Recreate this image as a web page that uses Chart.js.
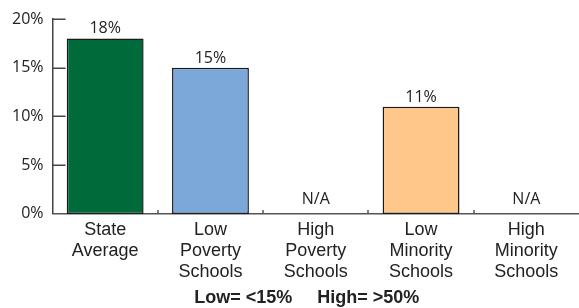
<!DOCTYPE html>
<html>
<head>
<meta charset="utf-8">
<script src="https://cdn.jsdelivr.net/npm/chart.js@4"></script>
<style>
html,body{margin:0;padding:0;background:#fff;}
#wrap{width:579px;height:308px;position:relative;}
</style>
</head>
<body>
<div id="wrap"><canvas id="c" width="579" height="308"></canvas></div>
<script>
const categories = [["State","Average"],["Low","Poverty","Schools"],["High","Poverty","Schools"],["Low","Minority","Schools"],["High","Minority","Schools"]];
const values = [18, 15, null, 11, null];
const valueLabels = ["18%","15%","N/A","11%","N/A"];
const barColors = ["#006B3A","#7BA7D9","#cccccc","#FFC88A","#cccccc"];
const yTicks = [0,5,10,15,20];
const footnote = "Low= <15%     High= >50%";

const extras = {
  id: 'extras',
  beforeDatasetsDraw(chart) {
    const ctx = chart.ctx;
    const y = chart.scales.y;
    const left = chart.chartArea.left;
    ctx.save();
    ctx.strokeStyle = '#444';
    ctx.lineWidth = 1.5;
    yTicks.forEach(v => {
      if (v === 0) return;
      const py = Math.round(y.getPixelForValue(v)) + 0.25;
      ctx.beginPath();
      ctx.moveTo(left, py);
      ctx.lineTo(left + 13, py);
      ctx.stroke();
    });
    ctx.restore();
  },
  afterDatasetsDraw(chart) {
    const ctx = chart.ctx;
    const meta = chart.getDatasetMeta(0);
    const x = chart.scales.x, y = chart.scales.y;
    ctx.save();
    ctx.font = '16px "Open Sans", sans-serif';
    ctx.fillStyle = '#222';
    ctx.textAlign = 'center';
    ctx.textBaseline = 'alphabetic';
    meta.data.forEach((bar, i) => {
      const v = values[i];
      if (v === null) {
        ctx.fillText(valueLabels[i], x.getPixelForValue(i), y.getPixelForValue(0) - 10);
      } else {
        ctx.fillText(valueLabels[i], bar.x, bar.y - 5);
      }
    });
    ctx.strokeStyle = '#555';
    ctx.lineWidth = 1.5;
    const y0 = y.getPixelForValue(0);
    for (let i = 0; i < categories.length - 1; i++) {
      const bx = Math.round((x.getPixelForValue(i) + x.getPixelForValue(i + 1)) / 2);
      ctx.beginPath();
      ctx.moveTo(bx, y0);
      ctx.lineTo(bx, y0 - 4);
      ctx.stroke();
    }
    ctx.font = 'bold 18px "Liberation Sans", Arial, sans-serif';
    ctx.fillStyle = '#222';
    ctx.textAlign = 'center';
    const ca = chart.chartArea;
    ctx.fillText(footnote, (ca.left + ca.right) / 2 - 9, chart.height - 5);
    ctx.restore();
  }
};

new Chart(document.getElementById('c'), {
  type: 'bar',
  data: {
    labels: categories,
    datasets: [{
      data: values,
      backgroundColor: barColors,
      borderColor: '#1a1a1a',
      borderWidth: 1.5,
      borderSkipped: false,
      categoryPercentage: 1.0,
      barPercentage: 0.73
    }]
  },
  options: {
    responsive: false,
    animation: false,
    layout: { padding: { left: 3, right: -3, top: 19, bottom: 20 } },
    plugins: { legend: { display: false }, tooltip: { enabled: false }, title: { display: false } },
    scales: {
      x: {
        grid: { display: false, drawTicks: false },
        border: { display: true, color: '#555', width: 1.5 },
        ticks: {
          color: '#222',
          padding: 6,
          maxRotation: 0,
          autoSkip: false,
          font: { family: '"Liberation Sans", Arial, sans-serif', size: 18, lineHeight: 1.15 }
        }
      },
      y: {
        min: 0, max: 20,
        afterBuildTicks(scale) { scale.ticks = yTicks.map(v => ({ value: v })); },
        grid: { display: false, drawTicks: false },
        border: { display: true, color: '#444', width: 1.5 },
        ticks: {
          color: '#222',
          padding: 9,
          font: { family: '"Open Sans", sans-serif', size: 16 },
          callback: v => v + '%'
        }
      }
    }
  },
  plugins: [extras]
});
</script>
</body>
</html>
